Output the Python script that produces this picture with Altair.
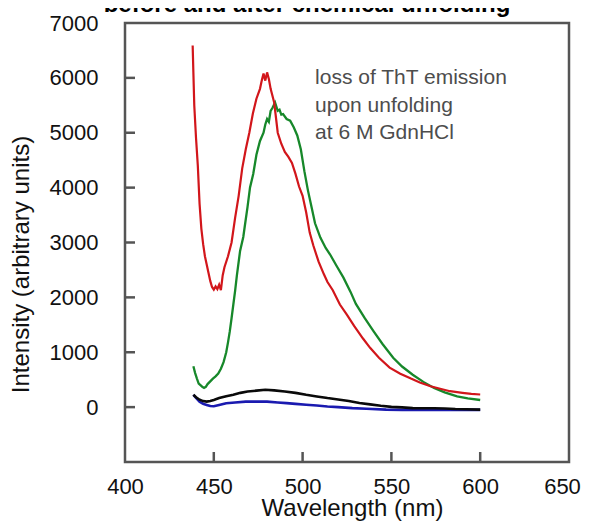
import altair as alt
import pandas as pd

# ---- data ----
X_TICK_LABELS = [400, 450, 500, 550, 600, 650]
Y_TICK_LABELS = [0, 1000, 2000, 3000, 4000, 5000, 6000, 7000]
X_INNER_TICKS = [450, 500, 550, 600]
Y_INNER_TICKS = [0, 1000, 2000, 3000, 4000, 5000, 6000]

red = [(438.1, 6590), (438.5, 6100), (439.0, 5500), (440.0, 4900), (441.0, 4400),
       (442.0, 3700), (443.0, 3250), (444.0, 2970), (445.0, 2750), (446.0, 2600),
       (447.0, 2450), (448.0, 2300), (449.0, 2190), (450.0, 2140), (451.0, 2200),
       (452.0, 2150), (453.0, 2230), (454.0, 2130), (455.0, 2400), (456.0, 2550),
       (458.0, 2750), (460.0, 3000), (462.0, 3450), (464.0, 3850), (466.0, 4350),
       (468.0, 4700), (470.0, 5000), (472.0, 5350), (474.0, 5620), (476.0, 5800),
       (477.0, 5950), (478.0, 6080), (479.0, 5950), (480.0, 6100), (481.0, 5980),
       (482.0, 5800), (484.0, 5550), (486.0, 5000), (488.0, 4800), (490.0, 4650),
       (492.0, 4560), (494.0, 4450), (496.0, 4250), (498.0, 4020), (500.0, 3850),
       (502.0, 3550), (504.0, 3180), (506.0, 2950), (509.0, 2650), (512.0, 2420),
       (514.0, 2280), (517.0, 2130), (521.0, 1870), (525.0, 1680), (529.0, 1480),
       (534.0, 1250), (538.0, 1080), (543.0, 900), (549.0, 720), (555.0, 610),
       (561.0, 520), (566.0, 450), (572.0, 380), (578.0, 330), (583.0, 290),
       (590.0, 260), (595.0, 240), (600.0, 230)]

green = [(438.5, 744), (439.5, 620), (440.5, 520), (441.5, 430), (442.5, 400),
         (443.5, 370), (444.5, 350), (445.5, 370), (446.5, 420), (448.0, 470),
         (449.5, 520), (451.0, 560), (452.5, 610), (454.0, 700), (455.5, 820),
         (457.0, 1000), (458.0, 1180), (459.0, 1380), (460.0, 1620), (461.0, 1870),
         (462.0, 2120), (463.0, 2400), (464.8, 2846), (466.6, 3100), (467.6, 3333),
         (469.0, 3650), (470.4, 4004), (472.2, 4250), (474.0, 4600), (476.0, 4850),
         (478.0, 5000), (479.0, 5150), (480.0, 5250), (481.0, 5200), (482.0, 5400),
         (483.0, 5450), (484.5, 5550), (486.0, 5400), (487.0, 5420), (488.0, 5330),
         (489.0, 5340), (491.0, 5250), (493.0, 5220), (495.0, 5100), (497.0, 4950),
         (499.0, 4700), (501.0, 4300), (503.0, 3950), (505.0, 3650), (507.0, 3350),
         (510.0, 3090), (513.0, 2900), (515.4, 2785), (519.0, 2580), (523.0, 2360),
         (527.0, 2100), (530.0, 1880), (535.0, 1620), (540.0, 1380), (545.0, 1150),
         (551.0, 900), (556.0, 740), (562.0, 590), (568.0, 460), (574.0, 350),
         (580.0, 270), (587.0, 195), (593.0, 160), (600.0, 130)]

black = [(438.5, 225), (440.0, 180), (442.0, 135), (444.0, 110), (446.0, 100),
         (448.0, 110), (450.0, 130), (453.0, 165), (457.0, 200), (461.0, 225),
         (465.0, 260), (469.0, 285), (474.0, 300), (479.0, 316), (484.0, 305),
         (490.0, 285), (496.0, 260), (502.0, 225), (508.0, 195), (514.0, 165),
         (520.0, 140), (526.0, 110), (532.0, 75), (538.0, 50), (544.0, 25),
         (550.0, 5), (556.0, -5), (562.0, -18), (568.0, -20), (574.0, -20),
         (580.0, -25), (586.0, -35), (592.0, -40), (600.0, -45)]

blue = [(438.5, 225), (440.0, 170), (442.0, 100), (444.0, 60), (446.0, 40),
        (448.0, 20), (450.0, 15), (453.0, 40), (457.0, 70), (462.0, 85),
        (468.0, 100), (474.0, 100), (480.0, 100), (486.0, 85), (491.0, 73),
        (496.0, 60), (502.0, 43), (508.0, 30), (514.0, 12), (520.0, 0),
        (528.0, -18), (536.0, -30), (547.0, -45), (556.0, -50), (566.0, -50),
        (576.0, -50), (586.0, -50), (596.0, -50), (600.0, -50)]

ANNOT_LINES = ["loss of ThT emission", "upon unfolding", "at 6 M GdnHCl"]
ANNOT_POS = {"wl": [507.0], "intensity": [5887.0]}
TITLE = "before and after chemical unfolding"

# ---- styling ----
FONT = "Liberation Sans"
W, H = 444, 439
FRAME = "#555555"


def frame(pairs):
    return pd.DataFrame(pairs, columns=["wl", "intensity"])


xs = alt.Scale(domain=[400, 650], nice=False, zero=False)
ys = alt.Scale(domain=[-1000, 7000], nice=False, zero=False)

x_axis = alt.Axis(values=X_TICK_LABELS, format="d", ticks=False, tickSize=0, domain=False,
                  grid=False, labelFont=FONT, labelFontSize=22, labelColor="#111111",
                  labelPadding=31, labelBaseline="alphabetic", labelFlush=False,
                  labelOverlap=False,
                  labelOffset={"condition": {"test": "datum.value == 650", "value": -7},
                               "value": 0},
                  title="Wavelength (nm)", titleFont=FONT, titleFontSize=24,
                  titleFontWeight="normal", titleColor="#111111", titleX=227, titleY=53,
                  titleBaseline="alphabetic", titleAlign="center", titleAngle=0)
y_axis = alt.Axis(values=Y_TICK_LABELS, format="d", ticks=False, tickSize=0, domain=False,
                  grid=False, labelFont=FONT, labelFontSize=22, labelColor="#111111",
                  labelPadding=27, labelBaseline="middle", labelAlign="right",
                  labelFlush=False, labelOverlap=False,
                  title="Intensity (arbitrary units)", titleFont=FONT, titleFontSize=24,
                  titleFontWeight="normal", titleColor="#111111", titleX=-97, titleY=241,
                  titleAngle=270, titleBaseline="alphabetic", titleAlign="center")

x_enc = alt.X("wl:Q", scale=xs, axis=x_axis)
y_enc = alt.Y("intensity:Q", scale=ys, axis=y_axis)

xt = alt.Chart(pd.DataFrame({"wl": X_INNER_TICKS})).mark_rule(
    color=FRAME, strokeWidth=2.5).encode(x=x_enc, y=alt.value(H), y2=alt.value(H - 10))
yt = alt.Chart(pd.DataFrame({"intensity": Y_INNER_TICKS})).mark_rule(
    color=FRAME, strokeWidth=2.5).encode(y=y_enc, x=alt.value(0), x2=alt.value(10))


def line(pairs, color, sw):
    return alt.Chart(frame(pairs)).mark_line(color=color, strokeWidth=sw).encode(x=x_enc, y=y_enc)


txt = alt.Chart(pd.DataFrame(ANNOT_POS)).mark_text(
    text=ANNOT_LINES, align="left", baseline="alphabetic", font=FONT, fontSize=21,
    color="#4d4d4d", lineHeight=27.5).encode(x=x_enc, y=y_enc)

# chart title (partly cut off by the top edge, as in the reference)
title_mark = alt.Chart(pd.DataFrame({"t": [TITLE]})).mark_text(
    align="center", baseline="alphabetic", font=FONT, fontSize=24, fontWeight="bold",
    color="#000000").encode(text="t:N", x=alt.value(182), y=alt.value(-11))

chart = alt.layer(
    xt, yt,
    line(blue, "#1a1ab0", 2.6),
    line(black, "#0a0a0a", 2.6),
    line(green, "#17882a", 2.3),
    line(red, "#d2161b", 2.2),
    txt,
    title_mark,
).properties(
    width=W, height=H,
    autosize=alt.AutoSizeParams(type="none"),
    padding={"left": 117, "top": 15, "right": 13, "bottom": 59},
    background="white",
).configure_view(stroke=FRAME, strokeWidth=2.5)

chart.save("out.html", embed_options={"renderer": "svg", "actions": False})
